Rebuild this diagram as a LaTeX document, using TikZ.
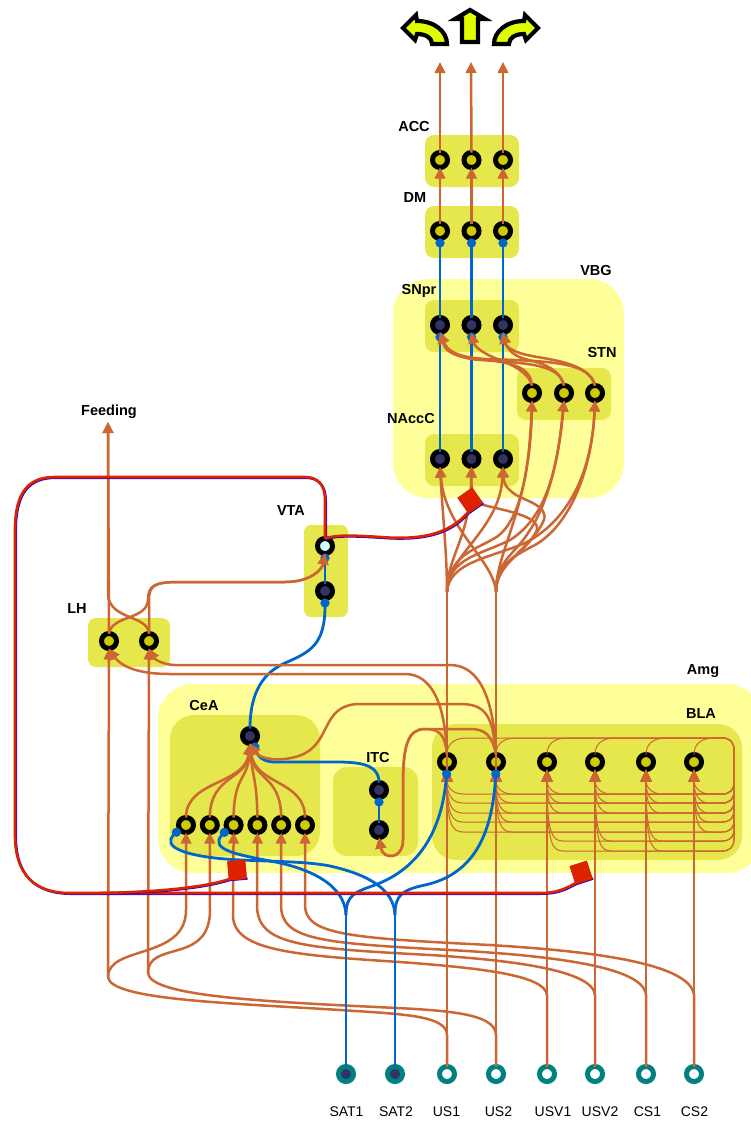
\documentclass[tikz,border=0pt]{standalone}
\usepackage{fontspec}
\setmainfont{Liberation Sans}
\usepackage{xcolor}
\usetikzlibrary{arrows.meta,positioning}
\definecolor{amlight}{HTML}{FFFF99}
\definecolor{amdark}{HTML}{E6E64D}
\definecolor{amocher}{HTML}{CCCC00}
\definecolor{amviolet}{HTML}{333366}
\definecolor{amcyan}{HTML}{CCFFFF}
\definecolor{amorange}{HTML}{CC6633}
\definecolor{amblue}{HTML}{0066CC}
\definecolor{amred}{HTML}{DD2200}
\definecolor{amindigo}{HTML}{3300CC}
\definecolor{amteal}{HTML}{008080}
\definecolor{amlime}{HTML}{E0FF00}

\begin{document}
\begin{tikzpicture}[
  x=1pt, y=-1pt,
  outer/.style={fill=amlight, rounded corners=35pt},
  zone/.style={fill=amdark},
  cell/.style={circle, draw=black, line width=5pt, inner sep=0pt, outer sep=0pt, minimum size=15pt},
  cellup/.style={cell, fill=amocher},
  celldn/.style={cell, fill=amviolet},
  cellda/.style={cell, fill=amcyan},
  inon/.style={cell, draw=amteal, fill=white},
  insat/.style={cell, draw=amteal, fill=amviolet},
  tag/.style={font=\bfseries\fontsize{14.5}{16}\selectfont, inner sep=0pt},
  inname/.style={font=\fontsize{14}{16}\selectfont, inner sep=0pt},
  wire/.style={draw=amorange, line width=2.5pt},
  exc/.style={wire, -{Triangle[length=11pt,width=10.5pt]}},
  recur/.style={draw=amorange, line width=1pt, -{Triangle[length=12pt,width=11pt]}},
  recurtop/.style={draw=amorange, line width=1pt},
  inh/.style={draw=amblue, line width=2.8pt, -{Circle[length=9pt]}},
  bluewire/.style={draw=amblue, line width=2.8pt},
  daline/.style={draw=amred, line width=2.6pt, preaction={draw=amindigo, line width=2.4pt, transform canvas={xshift=.8pt,yshift=-.8pt}}},
  synbox/.style={fill=amred, inner sep=0pt, outer sep=0pt, minimum size=18pt},
  bigarrow/.style={draw=black, fill=amlime, line width=4.2pt}
]
\useasboundingbox (0,0) rectangle (750,1122);

% regions
\fill[outer] (393,279) rectangle (624,498);
\fill[outer] (158,684) rectangle (762,873);
\fill[zone, rounded corners=9pt] (425,135) rectangle (519,187);
\fill[zone, rounded corners=9pt] (425,206) rectangle (519,258);
\fill[zone, rounded corners=9pt] (425,300) rectangle (519,352);
\fill[zone, rounded corners=9pt] (425,434) rectangle (519,486);
\fill[zone, rounded corners=9pt] (517,368) rectangle (611,420);
\fill[zone, rounded corners=7pt] (304,525) rectangle (348,617);
\fill[zone, rounded corners=8pt] (88,618) rectangle (170,667);
\fill[zone, rounded corners=24pt] (170,715) rectangle (320,856);
\fill[zone, rounded corners=14pt] (333,767) rectangle (418,856);
\fill[zone, rounded corners=24pt] (432,724) rectangle (742,860);

% cells
\node[cellup] (acca) at (440,160) {};
\node[cellup, right=16.5pt of acca] (accb) {};
\node[cellup, right=16.5pt of accb] (accc) {};
\node[cellup] (dma) at (440,231) {};
\node[cellup, right=16.5pt of dma] (dmb) {};
\node[cellup, right=16.5pt of dmb] (dmc) {};
\node[celldn] (snpra) at (440,325) {};
\node[celldn, right=16.5pt of snpra] (snprb) {};
\node[celldn, right=16.5pt of snprb] (snprc) {};
\node[celldn] (naca) at (440,459) {};
\node[celldn, right=16.5pt of naca] (nacb) {};
\node[celldn, right=16.5pt of nacb] (nacc) {};
\node[cellup] (stna) at (532,393) {};
\node[cellup, right=17pt of stna] (stnb) {};
\node[cellup, right=16pt of stnb] (stnc) {};
\node[cellda] (vtaa) at (325,546) {};
\node[celldn, below=30pt of vtaa] (vtab) {};
\node[cellup] (lha) at (109,641) {};
\node[cellup, right=25pt of lha] (lhb) {};
\node[celldn] (ceat) at (250,736) {};
\node[cellup] (ceaa) at (186,825) {};
\node[cellup, right=8.8pt of ceaa] (ceab) {};
\node[cellup, right=8.8pt of ceab] (ceac) {};
\node[cellup, right=8.8pt of ceac] (cead) {};
\node[cellup, right=8.8pt of cead] (ceae) {};
\node[cellup, right=8.8pt of ceae] (ceaf) {};
\node[celldn] (itca) at (379,790) {};
\node[celldn, below=25pt of itca] (itcb) {};
\node[cellup] (blaa) at (447,762) {};
\node[cellup, right=34pt of blaa] (blab) {};
\node[cellup, right=36pt of blab] (blac) {};
\node[cellup, right=33pt of blac] (blad) {};
\node[cellup, right=36pt of blad] (blae) {};
\node[cellup, right=33pt of blae] (blaf) {};
\node[insat] (sata) at (346,1074) {};
\node[insat, right=34pt of sata] (satb) {};
\node[inon] (usa) at (447,1074) {};
\node[inon, right=34pt of usa] (usb) {};
\node[inon, right=36pt of usb] (usva) {};
\node[inon, right=33pt of usva] (usvb) {};
\node[inon, right=36pt of usvb] (csa) {};
\node[inon, right=33pt of csa] (csb) {};

% labels
\node[tag] (lblacc) at (414,127) {ACC};
\node[tag] (lbldm) at (415,198) {DM};
\node[tag] (lblvbg) at (596,271) {VBG};
\node[tag] (lblsnpr) at (419,291) {SNpr};
\node[tag] (lblstn) at (602,353) {STN};
\node[tag] (lblnac) at (411,419) {NAccC};
\node[tag] (feeding) at (109,411.5) {Feeding};
\node[tag] (lblvta) at (291,511) {VTA};
\node[tag] (lbllh) at (77,609) {LH};
\node[tag] (lblcea) at (204,705) {CeA};
\node[tag] (lblitc) at (378,757) {ITC};
\node[tag] (lblbla) at (701,714) {BLA};
\node[tag] (lblamg) at (703,671) {Amg};
\node[inname] (lblsata) at (346.5,1111.5) {SAT1};
\node[inname] (lblsatb) at (396,1111.5) {SAT2};
\node[inname] (lblusa) at (446.5,1111.5) {US1};
\node[inname] (lblusb) at (498.5,1111.5) {US2};
\node[inname] (lblusva) at (553,1111.5) {USV1};
\node[inname] (lblusvb) at (600,1111.5) {USV2};
\node[inname] (lblcsa) at (647.5,1111.5) {CS1};
\node[inname] (lblcsb) at (694.5,1111.5) {CS2};

% output arrows
\draw[bigarrow] (403,28) -- (416,15) -- (417,21) .. controls (435,21) and (447,32) .. (447,44) -- (432,44) .. controls (432,38) and (426,34) .. (417,34) -- (415,40) -- cycle;
\draw[bigarrow] (470,10) -- (485,19) -- (478,19) -- (478,42) -- (462,42) -- (462,19) -- (455,19) -- cycle;
\draw[bigarrow] (538,28) -- (525,15) -- (524,21) .. controls (506,21) and (494,32) .. (494,44) -- (509,44) .. controls (509,38) and (515,34) .. (524,34) -- (526,40) -- cycle;
\coordinate (outa) at (440,62);
\coordinate (outb) at (471,62);
\coordinate (outc) at (503,62);
\coordinate (feedtip) at (108,422);
\coordinate (trunka) at (447,592);
\coordinate (trunkb) at (496,592);
\coordinate (usaup) at (108,977);
\coordinate (usbup) at (148,973);
\coordinate (satafork) at (346,915);
\coordinate (satbfork) at (395,915);
\coordinate (recurin) at (734,750);

% blue wires under the orange ones
\draw[inh] (snpra) -- (dma.south);
\draw[inh] (snprb) -- (dmb.south);
\draw[inh] (snprc) -- (dmc.south);
\draw[inh] (naca.north) -- (snpra.south);
\draw[inh] (nacb.north) -- (snprb.south);
\draw[inh] (nacc.north) -- (snprc.south);
\draw[inh] (vtab.north) -- (vtaa.south);
\draw[inh] (itcb.north) -- (itca.south);
\draw[inh] (ceat.north) .. controls (250,690) and (265,672) .. (285,663) .. controls (310,652) and (325,645) .. (vtab.south);
\draw[inh] (itca.north) .. controls (379,760) and (350,762) .. (320,762) -- (275,762) .. controls (265,762) and (258,758) .. (ceat.300);

% top chain
\draw[exc] (acca.north) -- (outa);
\draw[exc] (accb.north) -- (outb);
\draw[exc] (accc.north) -- (outc);
\draw[exc] (dma.north) -- (acca.south);
\draw[exc] (dmb.north) -- (accb.south);
\draw[exc] (dmc.north) -- (accc.south);

% STN to SNpr
\draw[exc] (stna.north) .. controls (530,365) and (510,362) .. (470,358) .. controls (452,356) and (445,350) .. (snpra.south);
\draw[exc] (stna.north) .. controls (528,370) and (505,362) .. (495,358) .. controls (480,352) and (474,345) .. (snprb.south);
\draw[exc] (stnb.north) .. controls (560,365) and (530,363) .. (480,360) .. controls (455,358) and (447,350) .. (snpra.south);
\draw[exc] (stnb.north) .. controls (558,365) and (535,362) .. (525,359) .. controls (510,355) and (506,345) .. (snprc.south);
\draw[exc] (stnc.north) .. controls (590,362) and (550,361) .. (485,359) .. controls (455,357) and (447,350) .. (snpra.south);
\draw[exc] (stnc.north) .. controls (588,362) and (550,360) .. (527,355) .. controls (510,351) and (505,345) .. (snprc.south);

% trunks to NAccC and STN
\draw[wire] (usa.north) -- (trunka);
\draw[wire] (usb.north) -- (trunkb);
\draw[exc] (trunka) .. controls (447,555) and (443,520) .. (naca.south);
\draw[exc] (trunka) .. controls (447,555) and (470,540) .. (nacb.south);
\draw[exc] (trunka) .. controls (447,555) and (500,530) .. (nacc.south);
\draw[exc] (trunka) .. controls (448,555) and (475,550) .. (495,538) .. controls (525,520) and (530,450) .. (stna.south);
\draw[exc] (trunka) .. controls (448,558) and (480,555) .. (510,540) .. controls (550,515) and (558,460) .. (stnb.south);
\draw[exc] (trunka) .. controls (449,562) and (490,558) .. (525,543) .. controls (570,520) and (592,470) .. (stnc.south);
\draw[exc] (trunkb) .. controls (494,560) and (445,530) .. (naca.south);
\draw[exc] (trunkb) .. controls (496,562) and (525,555) .. (537,530) .. controls (540,515) and (500,510) .. (480,504) .. controls (473,500) and (471,490) .. (nacb.south);
\draw[exc] (trunkb) .. controls (496,562) and (530,550) .. (543,522) .. controls (552,505) and (520,500) .. (512,492) .. controls (507,488) and (504,485) .. (nacc.south);
\draw[exc] (trunkb) .. controls (496,550) and (530,510) .. (stna.south);
\draw[exc] (trunkb) .. controls (496,560) and (515,555) .. (530,530) .. controls (550,500) and (560,450) .. (stnb.south);
\draw[exc] (trunkb) .. controls (496,566) and (510,558) .. (535,545) .. controls (570,525) and (592,470) .. (stnc.south);

% LH, VTA, Feeding
\draw[exc] (lha.north) -- (feedtip);
\draw[exc] (lhb.north) .. controls (148,615) and (110,620) .. (108,595) -- (feedtip);
\draw[exc] (lha.north) .. controls (112,615) and (147,620) .. (148,600) .. controls (148,585) and (155,582) .. (180,582) -- (285,582) .. controls (310,582) and (322,570) .. (vtaa.south);
\draw[exc] (lhb.north) -- (149,600) .. controls (149,585) and (155,582) .. (180,582) -- (285,582) .. controls (310,582) and (322,570) .. (vtaa.south);

% BLA recurrent wires
\foreach \from/\fx in {blaa/447,blab/496,blac/547,blad/595,blae/646,blaf/694}
  \draw[recurtop] (\from.north) .. controls (\fx,745) and (\fx+6,738) .. (\fx+20,738) -- (722,738) .. controls (730,738) and (734,742) .. (recurin);
\foreach \to/\tx/\rows in {blaa/447/{794,803,813,822,832},blab/496/{794,803,813,822,832},
    blac/547/{794,803,813,841,851},blad/595/{794,803,813,841,851},
    blae/646/{794,803,813,841,851},blaf/694/{794,803,813,822,832}}
  \foreach \row in \rows
    \draw[recur] (recurin) -- (734,\row-12) .. controls (734,\row-4) and (730,\row) .. (722,\row) -- (\tx+16,\row) .. controls (\tx+5,\row) and (\tx,\row-8) .. (\to.south);

% inputs to BLA and LH
\draw[exc] (usa.north) -- (blaa.south);
\draw[exc] (usb.north) -- (blab.south);
\draw[recur, line width=2.5pt] (usva.north) -- (blac.south);
\draw[recur, line width=2.5pt] (usvb.north) -- (blad.south);
\draw[recur, line width=2.5pt] (csa.north) -- (blae.south);
\draw[recur, line width=2.5pt] (csb.north) -- (blaf.south);
\draw[exc] (blaa.north) .. controls (445,700) and (430,674) .. (405,674) -- (170,674) .. controls (135,674) and (120,665) .. (lha.south);
\draw[exc] (blab.north) .. controls (494,700) and (480,665) .. (450,665) -- (175,665) .. controls (165,665) and (155,660) .. (lhb.south);
\draw[exc] (blab.north) .. controls (493,715) and (485,704) .. (460,704) -- (360,704) .. controls (325,704) and (330,735) .. (310,750) .. controls (295,762) and (262,762) .. (ceat.south);
\draw[exc] (blaa.north) .. controls (445,735) and (440,729) .. (425,729) .. controls (408,729) and (403,745) .. (403,785) -- (403,840) .. controls (403,860) and (383,860) .. (itcb.south);
\draw[exc] (blab.north) .. controls (492,735) and (485,729) .. (470,729) -- (425,729) .. controls (408,729) and (403,745) .. (403,785) -- (403,840) .. controls (403,860) and (383,860) .. (itcb.south);

% CeA fan
\draw[exc] (ceaa.north) .. controls (186,780) and (245,785) .. (ceat.south);
\draw[exc] (ceab.north) .. controls (210,775) and (247,780) .. (ceat.south);
\draw[exc] (ceac.north) .. controls (234,775) and (248,780) .. (ceat.south);
\draw[exc] (cead.north) .. controls (257,780) and (252,775) .. (ceat.south);
\draw[exc] (ceae.north) .. controls (281,775) and (253,780) .. (ceat.south);
\draw[exc] (ceaf.north) .. controls (305,780) and (255,785) .. (ceat.south);

% inputs running under Amg
\draw[wire] (usa.north) -- (447,1035) .. controls (447,1015) and (400,1014) .. (340,1010) .. controls (230,1003) and (110,1000) .. (usaup);
\draw[wire] (usb.north) -- (496,1035) .. controls (496,1012) and (440,1010) .. (376,1007) .. controls (250,1001) and (150,995) .. (usbup);
\draw[exc] (usaup) -- (lha.south);
\draw[exc] (usbup) -- (lhb.south);
\draw[exc] (usaup) .. controls (108,945) and (186,960) .. (186,910) -- (ceaa.south);
\draw[exc] (usbup) .. controls (148,940) and (210,965) .. (210,910) -- (ceab.south);
\draw[exc] (usva.north) -- (547,995) .. controls (545,975) and (480,968) .. (400,962) .. controls (290,955) and (233,950) .. (233,915) -- (ceac.south);
\draw[exc] (usvb.north) -- (595,995) .. controls (593,970) and (510,960) .. (430,955) .. controls (300,948) and (257,945) .. (257,905) -- (cead.south);
\draw[exc] (csa.north) -- (646,995) .. controls (644,965) and (540,955) .. (450,950) .. controls (320,943) and (281,940) .. (281,905) -- (ceae.south);
\draw[exc] (csb.north) -- (694,995) .. controls (690,960) and (570,950) .. (490,945) .. controls (350,938) and (305,935) .. (305,905) -- (ceaf.south);

% SAT wires
\draw[bluewire] (sata.north) -- (satafork);
\draw[bluewire] (satb.north) -- (satbfork);
\draw[inh] (satafork) .. controls (346,895) and (355,892) .. (375,885) .. controls (420,868) and (442,830) .. (blaa.south);
\draw[inh] (satbfork) .. controls (395,895) and (402,890) .. (425,885) .. controls (470,875) and (492,840) .. (blab.south);
\draw[inh] (satafork) .. controls (345,885) and (310,868) .. (270,861) .. controls (240,855) and (208,850) .. (ceac.213);
\draw[inh] (satbfork) .. controls (394,890) and (370,875) .. (330,866) .. controls (300,860) and (250,862) .. (215,858) .. controls (190,855) and (160,848) .. (ceaa.213);

% dopamine wires and synapses
\node[synbox, rotate=35] (syna) at (470,500) {};
\node[synbox, rotate=5] (synb) at (237,869.5) {};
\node[synbox, rotate=18] (sync) at (581,872) {};
\draw[daline] (vtaa.north) -- (325,500) .. controls (325,485) and (318,477) .. (305,477) -- (55,477) .. controls (30,477) and (15,490) .. (15,530) -- (15,835) .. controls (15,875) and (35,893) .. (70,893) -- (540,893) .. controls (555,893) and (563,890) .. (sync.south west) -- (sync.south east);
\draw[daline] (100,893) .. controls (160,892) and (205,887) .. (synb.south west) -- (synb.south east);
\draw[daline] (vtaa.north) .. controls (335,535) and (350,535) .. (380,537) .. controls (420,540) and (448,535) .. (syna.south west) -- (syna.south east);
\fill[amred] (syna.south west) -- (syna.south east) -- (syna.north east) -- (syna.north west) -- cycle;
\fill[amred] (synb.south west) -- (synb.south east) -- (synb.north east) -- (synb.north west) -- cycle;
\fill[amred] (sync.south west) -- (sync.south east) -- (sync.north east) -- (sync.north west) -- cycle;
\end{tikzpicture}
\end{document}
